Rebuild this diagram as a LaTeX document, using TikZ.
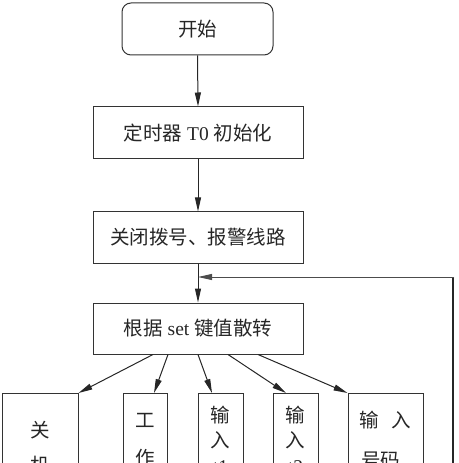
\documentclass[tikz,border=0pt]{standalone}
\usepackage{fontspec}
\setmainfont{Liberation Serif}
\newfontfamily\cjk{Noto Sans CJK SC}
\usetikzlibrary{arrows.meta}
\begin{document}
\begin{tikzpicture}[x=1bp,y=-1bp,
  every node/.style={font=\fontsize{19.5bp}{23bp}\selectfont, text=black!85},
  boxstyle/.style={draw=black!80, line width=1bp, inner sep=0pt},
  ln/.style={draw=black!85, line width=1bp},
  arr/.style={ln, -{Triangle[length=14bp,width=6bp]}},
  txt/.style={inner sep=0pt, anchor=base}
]
\useasboundingbox (0,0) rectangle (459,463);
\clip (0,0) rectangle (459,463);

% main column
\node[boxstyle, rounded corners=9bp, minimum width=151bp, minimum height=52bp] (start) at (197.5,29) {\cjk 开始};
\node[boxstyle, minimum width=210bp, minimum height=52bp] (init) at (198,133) {{\cjk 定时器} T0 {\cjk 初始化}};
\node[boxstyle, minimum width=210bp, minimum height=51bp] (close) at (198,237.5) {\cjk 关闭拨号、报警线路};
\node[boxstyle, minimum width=210bp, minimum height=51bp] (disp) at (198,328.5) {{\cjk 根据} set {\cjk 键值散转}};

% bottom boxes (cut off at the bottom edge)
\node[boxstyle, anchor=north, minimum width=75bp, minimum height=120bp] (ba) at (40.5,393) {};
\node[boxstyle, anchor=north, minimum width=44bp, minimum height=120bp] (bb) at (145,393) {};
\node[boxstyle, anchor=north, minimum width=45bp, minimum height=120bp] (bc) at (220.5,393) {};
\node[boxstyle, anchor=north, minimum width=45bp, minimum height=120bp] (bd) at (295.5,393) {};
\node[boxstyle, anchor=north, minimum width=75bp, minimum height=120bp] (be) at (385.5,393) {};

% texts in bottom boxes
\node[txt] (ta1) at (40.5,437) {\cjk 关};
\node[txt] (ta2) at (40.5,472) {\cjk 机};
\node[txt] (tb1) at (145,427) {\cjk 工};
\node[txt] (tb2) at (145,465) {\cjk 作};
\node[txt] (tc1) at (220.5,422) {\cjk 输};
\node[txt] (tc2) at (220.5,447) {\cjk 入};
\node[txt] (tc3) at (220.5,473) {t1};
\node[txt] (td1) at (295.5,422) {\cjk 输};
\node[txt] (td2) at (295.5,447) {\cjk 入};
\node[txt] (td3) at (295.5,473) {t2};
\node[txt] (te1) at (385,427) {\cjk 输\hspace{13bp}入};
\node[txt, anchor=base west] (te2) at (361,467) {\cjk 号码};

% main arrows
\draw[arr] (start.south) -- (init.north);
\draw[arr] (init.south) -- (close.north);
\draw[arr] (close.south) -- (disp.north);

% branch arrows
\draw[arr] ([xshift=-45bp]disp.south) -- (ba.north east);
\draw[arr] ([xshift=-30bp]disp.south) -- ([xshift=9bp]bb.north);
\draw[arr] (disp.south) -- ([xshift=-8.5bp]bc.north);
\draw[arr] ([xshift=30bp]disp.south) -- ([xshift=-9.5bp]bd.north);
\draw[arr] ([xshift=60bp]disp.south) -- (be.north west);

% feedback loop
\coordinate (fb) at (453,480);
\coordinate (fbt) at (453,277);
\coordinate (fbj) at (198,277);
\draw[ln, line width=2.5bp] (fb) -- (fbt);
\draw[arr, draw=black!70] ([xshift=1.25bp]fbt) -- (fbj);
\end{tikzpicture}
\end{document}
